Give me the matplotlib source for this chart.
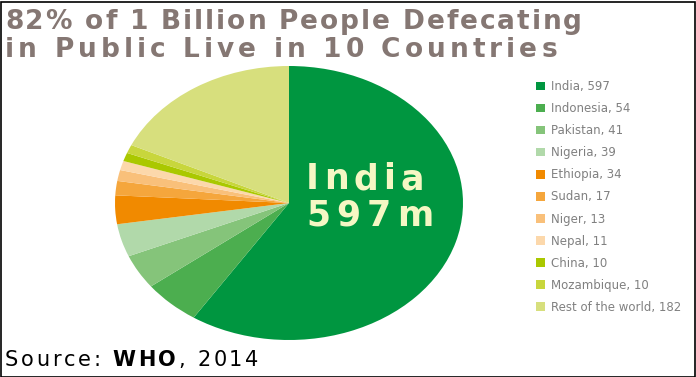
import matplotlib
matplotlib.use("Agg")
import matplotlib.pyplot as plt
from matplotlib.patches import Rectangle
from matplotlib.font_manager import FontProperties

# data (millions of people defecating in public)
countries = ["India", "Indonesia", "Pakistan", "Nigeria", "Ethiopia", "Sudan",
             "Niger", "Nepal", "China", "Mozambique", "Rest of the world"]
people = [597, 54, 41, 39, 34, 17, 13, 11, 10, 10, 182]
colors = ["#009640", "#4cae4f", "#85c47a", "#b1d9aa", "#f18a00", "#f5a63c",
          "#f9c07a", "#fcd8ab", "#aac800", "#c8d63c", "#d7df7d"]

title_lines = ["82% of 1 Billion People Defecating", "in Public Live in 10 Countries"]
big_label = ["India", "597m"]

W, H = 696, 377
fig = plt.figure(figsize=(W / 100, H / 100), dpi=100)
fig.canvas.draw()
r = fig.canvas.get_renderer()


def text_width(s, fp):
    # width in pixels of a string at the figure dpi
    w, h, d = r.get_text_width_height_descent(s, fp, ismath=False)
    return w


def tracked(x_px, y_px, segments, size, track, color):
    # draw text char by char with extra letter spacing; y_px is the baseline
    # segments: list of (text, weight)
    x = x_px
    for s, weight in segments:
        fp = FontProperties(family="DejaVu Sans", weight=weight, size=size)
        for i, ch in enumerate(s):
            pos = x + text_width(s[:i], fp) + i * track if i else x
            fig.text(pos / W, 1 - y_px / H, ch, fontproperties=fp, color=color,
                     ha="left", va="baseline")
        x = x + text_width(s, fp) + len(s) * track
    return x


def track_for(s, size, weight, target):
    fp = FontProperties(family="DejaVu Sans", weight=weight, size=size)
    return (target - text_width(s, fp)) / (len(s) - 1)


# pie area (stretched horizontally like the original)
ax = fig.add_axes([115 / W, 1 - 340 / H, 348 / W, 274 / H])
wedges, _ = ax.pie(people, colors=colors, startangle=90, counterclock=False,
                   wedgeprops=dict(linewidth=0))
ax.set_aspect("auto")
ax.set_xlim(-1, 1)
ax.set_ylim(-1, 1)
ax.axis("off")

# big label on the India slice
lab_color = "#f5f7c4"
tracked(306, 189, [(big_label[0], "bold")], 25,
        track_for(big_label[0], 25, "bold", 118), lab_color)
tracked(306, 226, [(big_label[1], "bold")], 25,
        track_for(big_label[1], 25, "bold", 127), lab_color)

# title
title_color = "#857773"
tracked(5, 29, [(title_lines[0], "bold")], 19,
        track_for(title_lines[0], 19, "bold", 577), title_color)
tracked(5, 57, [(title_lines[1], "bold")], 19,
        track_for(title_lines[1], 19, "bold", 552), title_color)

# legend
labels = [f"{c}, {v}" for c, v in zip(countries, people)]
leg = fig.legend(wedges, labels, loc="upper left",
                 bbox_to_anchor=(536 / W, 1 - 80 / H), frameon=False,
                 fontsize=8.5, labelcolor="#808080", handlelength=0.75,
                 handleheight=0.75, handletextpad=0.5, labelspacing=0.77,
                 borderpad=0, borderaxespad=0)

# source line with bold WHO
ts = track_for("Source: WHO, 2014", 15, "normal", 248)
tracked(5, 366, [("Source: ", "normal"), ("WHO", "bold"), (", 2014", "normal")],
        15, ts, "black")

# black frame around the image
fig.patches.append(Rectangle((0.5 / W, 0.5 / H), 1 - 2 / W, 1 - 2 / H,
                             transform=fig.transFigure, fill=False,
                             edgecolor="black", linewidth=1.2))

fig.savefig("out.png", dpi=100)
